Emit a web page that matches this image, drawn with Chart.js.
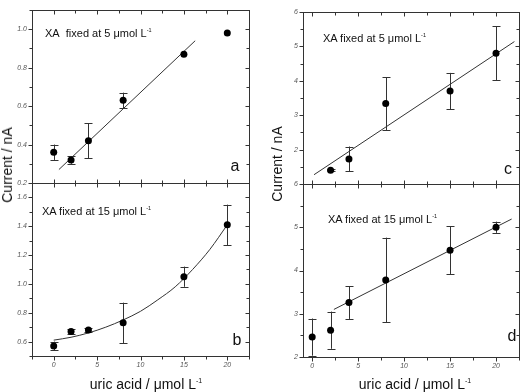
<!DOCTYPE html>
<html>
<head>
<meta charset="utf-8">
<script src="https://cdn.jsdelivr.net/npm/chart.js@4.4.1/dist/chart.umd.min.js"></script>
<style>
  body { margin: 0; background: #fff; }
  #wrap { position: relative; width: 523px; height: 392px; overflow: hidden; font-family: "Liberation Sans", Arial, sans-serif; color: #111; }
  canvas { position: absolute; left: 0; top: 0; }
  .note { position: absolute; font-size: 11px; white-space: nowrap; line-height: 1; transform: translateY(-50%); }
  .note sup, .title sup { font-size: 0.5em; vertical-align: 0.8em; line-height: 0; }
  .letter { position: absolute; font-size: 16px; line-height: 1; transform: translate(-50%, -50%); }
  .title { position: absolute; font-size: 14px; white-space: nowrap; line-height: 1; transform: translate(-50%, -50%); }
  .title.rot { transform: translate(-50%, -50%) rotate(-90deg); }
</style>
</head>
<body>
<div id="wrap">
  <canvas id="chartA" width="523" height="392"></canvas>
  <canvas id="chartB" width="523" height="392"></canvas>
  <canvas id="chartC" width="523" height="392"></canvas>
  <canvas id="chartD" width="523" height="392"></canvas>

  <div class="note" style="left:45px; top:33px;">XA&nbsp;&nbsp;fixed at 5 &mu;mol L<sup>-1</sup></div>
  <div class="note" style="left:42px; top:211px;">XA fixed at 15 &mu;mol L<sup>-1</sup></div>
  <div class="note" style="left:323px; top:38px;">XA fixed at 5 &mu;mol L<sup>-1</sup></div>
  <div class="note" style="left:328px; top:219px;">XA fixed at 15 &mu;mol L<sup>-1</sup></div>

  <div class="letter" style="left:235px; top:166px;">a</div>
  <div class="letter" style="left:237px; top:340px;">b</div>
  <div class="letter" style="left:508px; top:169px;">c</div>
  <div class="letter" style="left:512px; top:336px;">d</div>

  <div class="title rot" style="left:7px; top:165px;">Current / nA</div>
  <div class="title rot" style="left:277px; top:164px;">Current / nA</div>
  <div class="title" style="left:146px; top:384px;">uric acid / &mu;mol L<sup>-1</sup></div>
  <div class="title" style="left:415px; top:384px;">uric acid / &mu;mol L<sup>-1</sup></div>
</div>

<script>
// panel a: XA fixed at 5
const uricA = [0, 2, 4, 8, 15, 20];
const currentA = [0.36, 0.32, 0.42, 0.63, 0.87, 0.98];
const errA = [0.04, 0.02, 0.09, 0.04, 0, 0];
const fitXA = [0.6, 16.3];
const fitYA = [0.27, 0.94];

// panel b: XA fixed at 15
const uricB = [0, 2, 4, 8, 15, 20];
const currentB = [0.57, 0.67, 0.68, 0.73, 1.05, 1.41];
const errB = [0.03, 0.015, 0.015, 0.14, 0.07, 0.14];
const fitXB = [0, 2, 4, 6, 8, 10, 12, 14, 16, 18, 20];
const fitYB = [0.61, 0.63, 0.66, 0.70, 0.75, 0.81, 0.89, 0.98, 1.10, 1.24, 1.41];

// panel c
const uricC = [2, 4, 8, 15, 20];
const currentC = [1.40, 1.73, 3.34, 3.70, 4.80];
const errC = [0.03, 0.36, 0.77, 0.53, 0.78];
const fitXC = [0.2, 22.0];
const fitYC = [1.27, 5.14];

// panel d
const uricD = [0, 2, 4, 8, 15, 20];
const currentD = [2.46, 2.62, 3.26, 3.78, 4.47, 5.00];
const errD = [0.43, 0.43, 0.38, 0.98, 0.55, 0.13];
const fitXD = [2.36, 21.7];
const fitYD = [3.10, 5.19];

// tick labels
const xTicks = [0, 5, 10, 15, 20];
const yTicksA = [0.2, 0.4, 0.6, 0.8, 1.0];
const yTicksB = [0.6, 0.8, 1.0, 1.2, 1.4, 1.6];
const yTicksC = [2, 3, 4, 5, 6];
const yTicksD = [2, 3, 4, 5, 6];

const W = 523, H = 392;
const tickFont = { family: 'Liberation Sans', size: 7, style: 'italic' };

function tickPositions(scale, majors) {
    const half = (majors[1] - majors[0]) / 2;
    const out = [];
    let v = majors[0] - Math.floor((majors[0] - scale.min) / half + 1e-6) * half;
    for (; v <= scale.max + 1e-6; v += half) {
        const isMajor = majors.some(m => Math.abs(m - v) < 1e-6);
        out.push({ px: scale.getPixelForValue(v), major: isMajor });
    }
    return out;
}

function panelPlugin(p) {
    return {
        id: 'panel' + p.id,
        beforeDatasetsDraw(chart) {
            const ctx = chart.ctx;
            const xs = chart.scales.x, ys = chart.scales.y;
            ctx.save();
            ctx.strokeStyle = '#333';
            ctx.lineWidth = 1;
            p.x.forEach((xv, i) => {
                const e = p.err[i];
                if (!e) return;
                const px = Math.round(xs.getPixelForValue(xv)) + 0.5;
                const top = ys.getPixelForValue(p.y[i] + e);
                const bot = ys.getPixelForValue(p.y[i] - e);
                ctx.beginPath();
                ctx.moveTo(px, top); ctx.lineTo(px, bot);
                ctx.moveTo(px - 4, Math.round(top) + 0.5); ctx.lineTo(px + 4, Math.round(top) + 0.5);
                ctx.moveTo(px - 4, Math.round(bot) + 0.5); ctx.lineTo(px + 4, Math.round(bot) + 0.5);
                ctx.stroke();
            });
            ctx.restore();
        },
        afterDraw(chart) {
            const ctx = chart.ctx;
            const a = chart.chartArea;
            const xs = chart.scales.x, ys = chart.scales.y;
            const l = a.left + 0.5, r = a.right + 0.5, t = a.top + 0.5, b = a.bottom + 0.5;
            ctx.save();
            ctx.strokeStyle = '#333';
            ctx.lineWidth = 1;
            ctx.strokeRect(l, t, r - l, b - t);
            ctx.beginPath();
            tickPositions(xs, xTicks).forEach(tk => {
                const x = Math.round(tk.px) + 0.5;
                const len = tk.major ? 4 : 3;
                ctx.moveTo(x, t); ctx.lineTo(x, t + len);
                if (p.showX) { ctx.moveTo(x, b); ctx.lineTo(x, b + len); }
                else { ctx.moveTo(x, b); ctx.lineTo(x, b - len); }
            });
            tickPositions(ys, p.yTicks).forEach(tk => {
                const y = Math.round(tk.px) + 0.5;
                const len = tk.major ? 4 : 3;
                ctx.moveTo(l, y); ctx.lineTo(l - len, y);
                ctx.moveTo(r, y); ctx.lineTo(r - len, y);
            });
            ctx.stroke();
            ctx.restore();
        }
    };
}

function makePanel(canvasId, p) {
    const xH = p.showX ? 30 : 10;
    const ctx = document.getElementById(canvasId).getContext('2d');
    return new Chart(ctx, {
        type: 'scatter',
        data: {
            datasets: [{
                data: p.x.map((v, i) => ({ x: v, y: p.y[i] })),
                pointRadius: 3.5,
                pointBackgroundColor: '#000',
                pointBorderColor: '#000',
                pointBorderWidth: 0,
                showLine: false
            }, {
                data: p.fitX.map((v, i) => ({ x: v, y: p.fitY[i] })),
                showLine: true,
                pointRadius: 0,
                borderColor: '#333',
                borderWidth: 1,
                cubicInterpolationMode: p.curve ? 'monotone' : 'default',
                tension: 0
            }]
        },
        options: {
            responsive: false,
            animation: false,
            events: [],
            layout: {
                padding: { left: p.left - 32, right: W - p.right, top: p.top, bottom: H - p.bottom - xH }
            },
            plugins: {
                legend: { display: false },
                tooltip: { enabled: false }
            },
            scales: {
                x: {
                    type: 'linear',
                    min: p.xMin,
                    max: p.xMax,
                    grid: { display: false, drawTicks: false },
                    border: { display: false },
                    ticks: { display: p.showX, font: tickFont, color: '#555', padding: 5, maxRotation: 0 },
                    afterBuildTicks: s => { s.ticks = xTicks.map(v => ({ value: v })); },
                    afterFit: s => { s.height = xH; s.paddingLeft = 0; s.paddingRight = 0; }
                },
                y: {
                    type: 'linear',
                    min: p.yMin,
                    max: p.yMax,
                    grid: { display: false, drawTicks: false },
                    border: { display: false },
                    ticks: {
                        font: tickFont,
                        color: '#555',
                        padding: 5,
                        callback: v => p.decimals ? v.toFixed(1) : String(v)
                    },
                    afterBuildTicks: s => { s.ticks = p.yTicks.map(v => ({ value: v })); },
                    afterFit: s => { s.width = 32; s.paddingTop = 0; s.paddingBottom = 0; }
                }
            }
        },
        plugins: [panelPlugin(p)]
    });
}

makePanel('chartA', {
    id: 'A', x: uricA, y: currentA, err: errA, fitX: fitXA, fitY: fitYA,
    yTicks: yTicksA, yMin: 0.2, yMax: 1.1, xMin: -2.5, xMax: 22.5, decimals: true,
    left: 32, right: 249, top: 10, bottom: 183, showX: false
});
makePanel('chartB', {
    id: 'B', x: uricB, y: currentB, err: errB, fitX: fitXB, fitY: fitYB, curve: true,
    yTicks: yTicksB, yMin: 0.5, yMax: 1.7, xMin: -2.5, xMax: 22.5, decimals: true,
    left: 32, right: 249, top: 183, bottom: 356, showX: true
});
makePanel('chartC', {
    id: 'C', x: uricC, y: currentC, err: errC, fitX: fitXC, fitY: fitYC,
    yTicks: yTicksC, yMin: 1, yMax: 6, xMin: -1, xMax: 22.5, decimals: false,
    left: 303, right: 520, top: 12, bottom: 184, showX: false
});
makePanel('chartD', {
    id: 'D', x: uricD, y: currentD, err: errD, fitX: fitXD, fitY: fitYD,
    yTicks: yTicksD, yMin: 2, yMax: 6, xMin: -1, xMax: 22.5, decimals: false,
    left: 303, right: 520, top: 184, bottom: 357, showX: true
});
</script>
</body>
</html>
